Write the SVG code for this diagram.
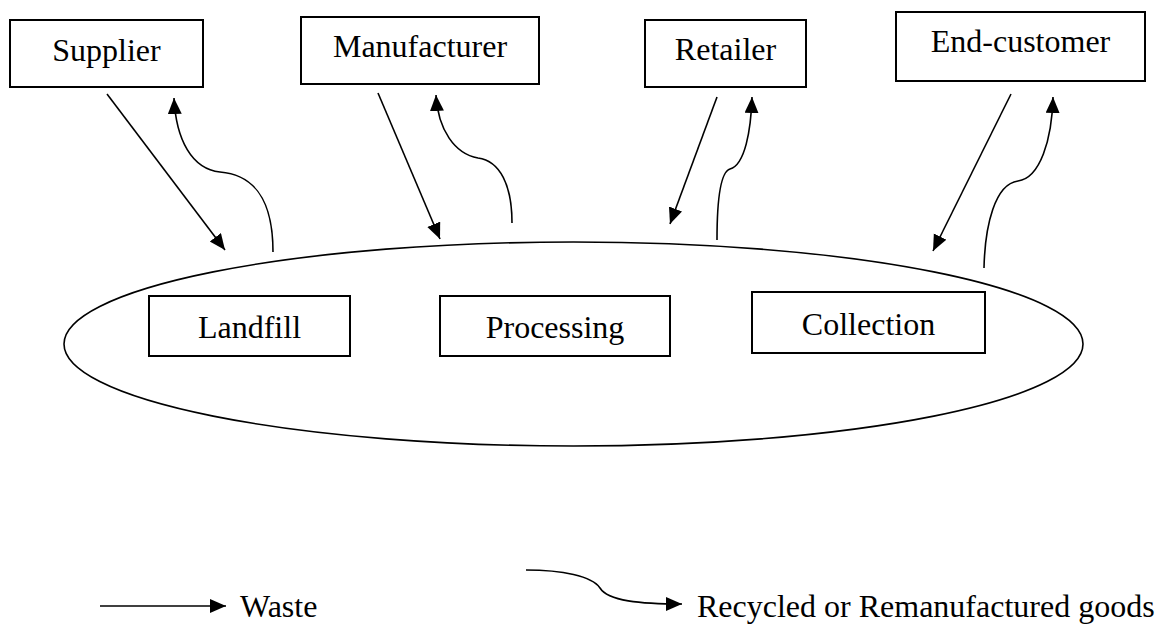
<svg xmlns="http://www.w3.org/2000/svg" width="1164" height="626" viewBox="0 0 1164 626">
<defs>
<style>
.box{fill:#fff;stroke:#000;stroke-width:2}
.lbl{font-family:"Liberation Serif","Times New Roman",serif;font-size:32px;fill:#000;text-anchor:middle}
.leg{font-family:"Liberation Serif","Times New Roman",serif;font-size:32px;fill:#000}
.ln{fill:none;stroke:#000;stroke-width:1.6;marker-end:url(#ah)}
</style>
<marker id="ah" markerUnits="userSpaceOnUse" markerWidth="18" markerHeight="15" refX="16" refY="7" orient="auto">
<path d="M0,0 L16,7 L0,14 z" fill="#000"/>
</marker>
</defs>
<rect width="1164" height="626" fill="#fff"/>
<g id="pool">
<ellipse cx="573.5" cy="344" rx="509.5" ry="102" fill="none" stroke="#000" stroke-width="1.6"/>
</g>
<g id="supplier"><rect class="box" x="10" y="20" width="193" height="67"/><text class="lbl" x="106.5" y="61">Supplier</text></g>
<g id="manufacturer"><rect class="box" x="301" y="17" width="238" height="67"/><text class="lbl" x="420" y="57">Manufacturer</text></g>
<g id="retailer"><rect class="box" x="645" y="20" width="161" height="67"/><text class="lbl" x="725.5" y="60">Retailer</text></g>
<g id="endcustomer"><rect class="box" x="896" y="12" width="249" height="69"/><text class="lbl" x="1020.5" y="52">End-customer</text></g>
<g id="landfill"><rect class="box" x="149" y="296" width="201" height="60"/><text class="lbl" x="249.5" y="338">Landfill</text></g>
<g id="processing"><rect class="box" x="440" y="296" width="230" height="60"/><text class="lbl" x="555" y="338">Processing</text></g>
<g id="collection"><rect class="box" x="752" y="292" width="233" height="61"/><text class="lbl" x="868.5" y="335">Collection</text></g>
<g id="connectors">
<path class="ln" d="M107,94 L225,250"/>
<path class="ln" d="M273,252 C273,200 255,175 220,172 C192,169 176,140 174,98"/>
<path class="ln" d="M378,93 L440,239"/>
<path class="ln" d="M512,223 C512,185 500,161 478,158 C455,154 438,130 436,95"/>
<path class="ln" d="M717,97 L670,224"/>
<path class="ln" d="M717,240 C717,200 720,172 730,169 C745,165 751,130 752,97"/>
<path class="ln" d="M1011,94 L933,251"/>
<path class="ln" d="M984,268 C985,225 995,184 1018,181 C1040,178 1052,140 1053,97"/>
</g>
<g id="legend">
<path class="ln" d="M100,606 L226,606"/>
<text class="leg" x="240" y="617">Waste</text>
<path class="ln" d="M526,570 C562,570 592,576 600,588 C608,601 640,604 682,604"/>
<text class="leg" x="697" y="617">Recycled or Remanufactured goods</text>
</g>
</svg>
